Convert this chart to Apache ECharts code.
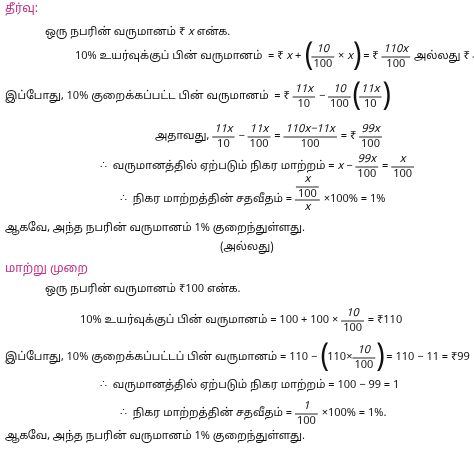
<!DOCTYPE html>
<html><head><meta charset="utf-8">
<script src="https://cdn.jsdelivr.net/npm/echarts@6/dist/echarts.min.js"></script>
<style>html,body{margin:0;padding:0;background:#fff}#c{width:474px;height:451px}</style>
</head><body><div id="c"></div>
<script>
// Text lines: [x, y, tokens]; token: string | ['f', num, den] | ['(' or ')', height]
const heading1 = 'தீர்வு:';
const heading2 = 'மாற்று முறை';
const lines = [
  [45, 33, ['ஒரு நபரின் வருமானம் ₹ ', 'i:x', ' என்க.']],
  [75, 57, ['10% உயர்வுக்குப் பின் வருமானம்  = ₹ ', 'i:x', ' + ', ['(', 28], ['f','10','100'], ' × ', 'i:x', [')', 28], ' = ₹ ', ['f','110x','100'], ' அல்லது ₹ ', ['f','11x','10']]],
  [5, 97, ['இப்போது, 10% குறைக்கப்பட்ட பின் வருமானம்  = ₹ ', ['f','11x','10'], ' − ', ['f','10','100'], ['(', 28], ['f','11x','10'], [')', 28]]],
  [155, 137, ['அதாவது, ', ['f','11x','10'], ' − ', ['f','11x','100'], ' = ', ['f','110x−11x','100'], ' = ₹ ', ['f','99x','100']]],
  [100, 167, ['∴  வருமானத்தில் ஏற்படும் நிகர மாற்றம் = ', 'i:x', ' − ', ['f','99x','100'], ' = ', ['f','x','100']]],
  [120, 200, ['∴  நிகர மாற்றத்தின் சதவீதம் = ', ['ff','x','100','x'], ' ×100% = 1%']],
  [5, 229, ['ஆகவே, அந்த நபரின் வருமானம் 1% குறைந்துள்ளது.']],
  [220, 248, ['(அல்லது)']],
  [45, 290, ['ஒரு நபரின் வருமானம் ₹100 என்க.']],
  [80, 321, ['10% உயர்வுக்குப் பின் வருமானம் = 100 + 100 × ', ['f','10','100'], ' = ₹110']],
  [5, 358, ['இப்போது, 10% குறைக்கப்பட்டப் பின் வருமானம் = 110 − ', ['(', 28], '110×', ['f','10','100'], [')', 28], ' = 110 − 11 = ₹99']],
  [100, 386, ['∴  வருமானத்தில் ஏற்படும் நிகர மாற்றம் = 100 − 99 = 1']],
  [120, 414, ['∴  நிகர மாற்றத்தின் சதவீதம் = ', ['f','1','100'], ' ×100% = 1%.']],
  [5, 437, ['ஆகவே, அந்த நபரின் வருமானம் 1% குறைந்துள்ளது.']]
];
const FONT = "'Noto Sans Tamil','Lohit Tamil','Noto Serif Tamil','Liberation Serif',serif";
const FS = 11;
const cv = document.createElement('canvas').getContext('2d');
function w(t, fs, it){ cv.font = (it?'italic ':'') + fs + 'px ' + FONT; return cv.measureText(t).width; }
const els = [];
function txt(x, y, t, fs, color, it){
  els.push({type:'text', x, y, style:{text:t, font:(it?'italic ':'')+fs+'px '+FONT, fill:color||'#111', textVerticalAlign:'middle'}});
}
function frac(x, y, n, d, fs){
  const wd = Math.max(w(n,fs), w(d,fs)) + 4;
  txt(x + (wd - w(n,fs))/2, y - fs*0.7, n, fs, '#111', true);
  txt(x + (wd - w(d,fs))/2, y + fs*0.75, d, fs, '#111', false);
  els.push({type:'line', shape:{x1:x, y1:y, x2:x+wd, y2:y}, style:{stroke:'#111', lineWidth:0.9}});
  return wd;
}
txt(5, 10, heading1, 12, '#c2307f');
txt(5, 270, heading2, 12, '#c2307f');
lines.forEach(([x0, y, toks]) => {
  let x = x0;
  toks.forEach(t => {
    if (typeof t === 'string') {
      const it = t.startsWith('i:'); const s = it ? t.slice(2) : t;
      txt(x, y, s, FS, '#111', it); x += w(s, FS, it);
    } else if (t[0] === 'f') {
      x += frac(x, y, t[1], t[2], FS) + 1;
    } else if (t[0] === 'ff') {
      const wd = Math.max(w(t[1],FS), w(t[2],FS), w(t[3],FS)) + 6;
      const iw = Math.max(w(t[1],FS), w(t[2],FS)) + 4;
      frac(x + (wd-iw)/2, y - 13, t[1], t[2], FS);
      els.push({type:'line', shape:{x1:x, y1:y, x2:x+wd, y2:y}, style:{stroke:'#111', lineWidth:0.9}});
      txt(x + (wd - w(t[3],FS))/2, y + FS*0.75, t[3], FS, '#111', true);
      x += wd + 1;
    } else {
      const h = t[1];
      txt(x, y, t[0], h, '#111', false); x += w(t[0], h) * 0.8;
    }
  });
});
const chart = echarts.init(document.getElementById('c'));
chart.setOption({backgroundColor:'#fff', graphic:{elements:els}});
</script></body></html>
